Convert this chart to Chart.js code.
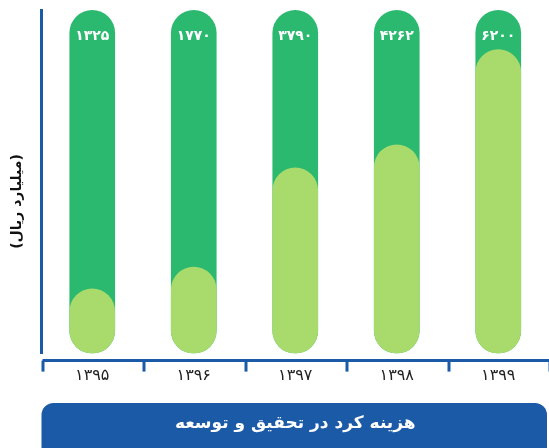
<!DOCTYPE html>
<html lang="fa">
<head>
<meta charset="utf-8">
<title>هزینه کرد در تحقیق و توسعه</title>
<script src="https://cdn.jsdelivr.net/npm/chart.js@4.4.1/dist/chart.umd.min.js"></script>
<style>
  html, body { margin: 0; padding: 0; background: #ffffff; }
  #wrap { position: relative; width: 549px; height: 448px; }
</style>
</head>
<body>
<div id="wrap"><canvas id="chart"></canvas></div>
<script>
// Years (Persian calendar) and R&D spending in billion rials
const categories = ['۱۳۹۵', '۱۳۹۶', '۱۳۹۷', '۱۳۹۸', '۱۳۹۹'];
const spending = [1325, 1770, 3790, 4262, 6200];
// Full-height track behind each bar
const track = [7000, 7000, 7000, 7000, 7000];
const axisMax = 7000;

const unitLabel = '(میلیارد ریال)';
const bannerText = 'هزینه کرد در تحقیق و توسعه';

const FONT = '"DejaVu Sans", "Noto Sans", sans-serif';
const BLUE = '#1b5aa7';

function toPersianDigits(n) {
  const d = '۰۱۲۳۴۵۶۷۸۹';
  return String(n).replace(/[0-9]/g, c => d[+c]);
}

// Rounded banner behind the bottom title, plus the unit label on the left
const decorPlugin = {
  id: 'decor',
  beforeDraw(chart) {
    const ctx = chart.ctx;
    const tb = chart.titleBlock;
    const top = tb.bottom - 45;
    ctx.save();
    ctx.fillStyle = BLUE;
    ctx.beginPath();
    ctx.roundRect(chart.chartArea.left, top, tb.right - chart.chartArea.left - 2, tb.bottom - top + 12, 12);
    ctx.fill();
    ctx.restore();
  },
  afterDraw(chart) {
    const ctx = chart.ctx;
    const area = chart.chartArea;
    const x = chart.scales.x;
    // x axis line sits a little below the plot area, with boundary ticks
    const axisY = area.bottom + 7;
    ctx.save();
    ctx.strokeStyle = BLUE;
    ctx.lineWidth = 3;
    ctx.beginPath();
    ctx.moveTo(area.left + 1, axisY);
    ctx.lineTo(chart.width, axisY);
    ctx.stroke();
    const step = (area.right - area.left) / categories.length;
    for (let i = 0; i <= categories.length; i++) {
      const px = Math.round(x.getPixelForValue(0) - step / 2 + i * step) + 1;
      ctx.beginPath();
      ctx.moveTo(px, axisY);
      ctx.lineTo(px, axisY + 11);
      ctx.stroke();
    }
    // unit label, rotated
    ctx.translate(17, (chart.titleBlock.bottom - 45) / 2);
    ctx.rotate(-Math.PI / 2);
    ctx.fillStyle = '#111111';
    ctx.font = 'bold 14px ' + FONT;
    ctx.textAlign = 'center';
    ctx.textBaseline = 'middle';
    ctx.fillText(unitLabel, 0, 0);
    ctx.restore();
  },
  afterDatasetsDraw(chart) {
    const ctx = chart.ctx;
    const meta = chart.getDatasetMeta(1);
    ctx.save();
    ctx.fillStyle = '#ffffff';
    ctx.font = 'bold 14px ' + FONT;
    ctx.textAlign = 'center';
    ctx.textBaseline = 'middle';
    meta.data.forEach((el, i) => {
      ctx.fillText(toPersianDigits(spending[i]), el.x, el.y + 26);
    });
    ctx.restore();
  }
};

new Chart(document.getElementById('chart'), {
  type: 'bar',
  data: {
    labels: categories,
    datasets: [
      {
        label: 'spending',
        data: spending,
        backgroundColor: '#a8db6b',
        borderRadius: 100,
        borderSkipped: false,
        grouped: false,
        order: 1,
        barPercentage: 0.45,
        categoryPercentage: 1
      },
      {
        label: 'track',
        data: track,
        backgroundColor: '#2bb96f',
        borderRadius: 100,
        borderSkipped: false,
        grouped: false,
        order: 2,
        barPercentage: 0.45,
        categoryPercentage: 1
      }
    ]
  },
  options: {
    responsive: true,
    maintainAspectRatio: false,
    animation: false,
    devicePixelRatio: 1,
    layout: { padding: { left: 33.5, right: -2, top: 10, bottom: 0 } },
    plugins: {
      legend: { display: false },
      tooltip: { enabled: false },
      title: {
        display: true,
        position: 'bottom',
        fullSize: false,
        text: bannerText,
        color: '#ffffff',
        font: { family: FONT, size: 17, weight: 'bold' },
        padding: { top: 22.8, bottom: 14 }
      }
    },
    scales: {
      x: {
        grid: { display: false },
        border: { display: false },
        ticks: {
          color: '#222222',
          font: { family: FONT, size: 16 },
          padding: 5
        }
      },
      y: {
        min: 0,
        max: axisMax,
        grid: { display: false },
        ticks: { display: false },
        border: { display: true, color: BLUE, width: 3 }
      }
    }
  },
  plugins: [decorPlugin]
});
</script>
</body>
</html>
